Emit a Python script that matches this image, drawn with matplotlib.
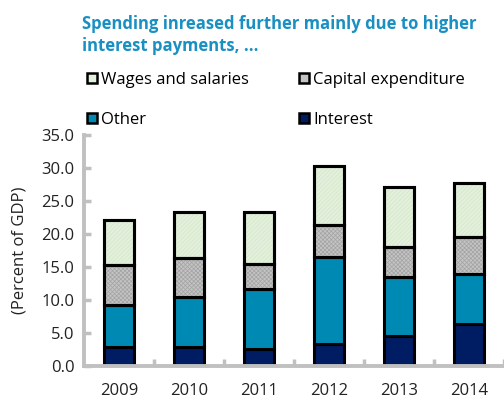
import matplotlib
matplotlib.use("Agg")
from matplotlib import pyplot as plt
from matplotlib.patches import Patch
import numpy as np

years = ["2009", "2010", "2011", "2012", "2013", "2014"]
# stacked layer sizes (percent of GDP)
interest = [2.85, 2.9, 2.55, 3.3, 4.5, 6.3]
other = [6.4, 7.6, 9.1, 13.2, 9.0, 7.65]
capital = [6.05, 5.8, 3.85, 4.8, 4.5, 5.55]
wages = [6.8, 7.1, 7.9, 9.05, 9.1, 8.3]

series_labels = ["Wages and salaries", "Capital expenditure", "Other", "Interest"]
yticks = [0, 5, 10, 15, 20, 25, 30, 35]

plt.rcParams["font.family"] = ["Open Sans", "DejaVu Sans"]
plt.rcParams["hatch.linewidth"] = 0.5

fig = plt.figure(figsize=(5.04, 4.03), dpi=100)
ax = fig.add_axes([0.167, 0.092, 0.833, 0.573])

x = np.arange(len(years))
w = 0.42
bottoms = np.zeros(len(years))
c_int, c_oth, c_cap, c_wag = "#001c63", "#0089b2", "#c4c4c4", "#e3f0dc"
layers = [
    (interest, c_int, None, None),
    (other, c_oth, None, None),
    (capital, c_cap, "#a3a3a3", "xxxxxxxx"),
    (wages, c_wag, "#d3e6c9", "////////"),
]
for vals, fc, hc, hatch in layers:
    ax.bar(x, vals, w, bottom=bottoms, color=fc, edgecolor="black", linewidth=2.2, zorder=2)
    if hatch:
        ax.bar(x, vals, w, bottom=bottoms, fill=False, edgecolor=hc, hatch=hatch,
               linewidth=0, zorder=3)
        ax.bar(x, vals, w, bottom=bottoms, fill=False, edgecolor="black", linewidth=2.2, zorder=4)
    bottoms += np.array(vals)

ax.set_xlim(-0.5, len(years) - 0.5)
ax.set_ylim(0, 35)
ax.set_yticks(yticks, [f"{t:.1f}" for t in yticks])
ax.set_xticks(x, years)
ax.set_xticks(np.arange(len(years)) + 0.5, minor=True)
ax.tick_params(axis="x", which="major", length=0, pad=12, labelsize=12, colors="#222222")
ax.tick_params(axis="x", which="minor", length=5, width=2.5, direction="in", color="#c0c0c0")
ax.tick_params(axis="y", length=5, width=2.5, direction="in", color="#c0c0c0",
               pad=7, labelsize=12, labelcolor="#222222")
for side in ["top", "right"]:
    ax.spines[side].set_visible(False)
for side in ["left", "bottom"]:
    ax.spines[side].set_color("#c0c0c0")
    ax.spines[side].set_linewidth(2.8)
ax.set_ylabel("(Percent of GDP)", fontsize=12, color="#222222")
ax.yaxis.set_label_coords(-0.135, 0.5)

fig.text(0.163, 0.913, "Spending inreased further mainly due to higher\ninterest payments, ...",
         fontsize=12, fontweight="bold", color="#1a8fc2", va="center", ha="left",
         linespacing=1.3)

patch = {
    "Wages and salaries": Patch(facecolor=c_wag, edgecolor="black", linewidth=1.8),
    "Capital expenditure": Patch(facecolor=c_cap, edgecolor="black", linewidth=1.8),
    "Other": Patch(facecolor=c_oth, edgecolor="black", linewidth=1.8),
    "Interest": Patch(facecolor=c_int, edgecolor="black", linewidth=1.8),
}
# legend fills column by column, so order for row-wise reading
order = [series_labels[0], series_labels[2], series_labels[1], series_labels[3]]
fig.legend([patch[k] for k in order], order, ncol=2, loc="upper left",
           bbox_to_anchor=(0.172, 0.822), frameon=False, fontsize=12,
           handlelength=0.6, handleheight=0.6, handletextpad=0.25, columnspacing=3.0,
           labelspacing=1.45, borderaxespad=0, borderpad=0)

fig.savefig("out.png", dpi=100)
